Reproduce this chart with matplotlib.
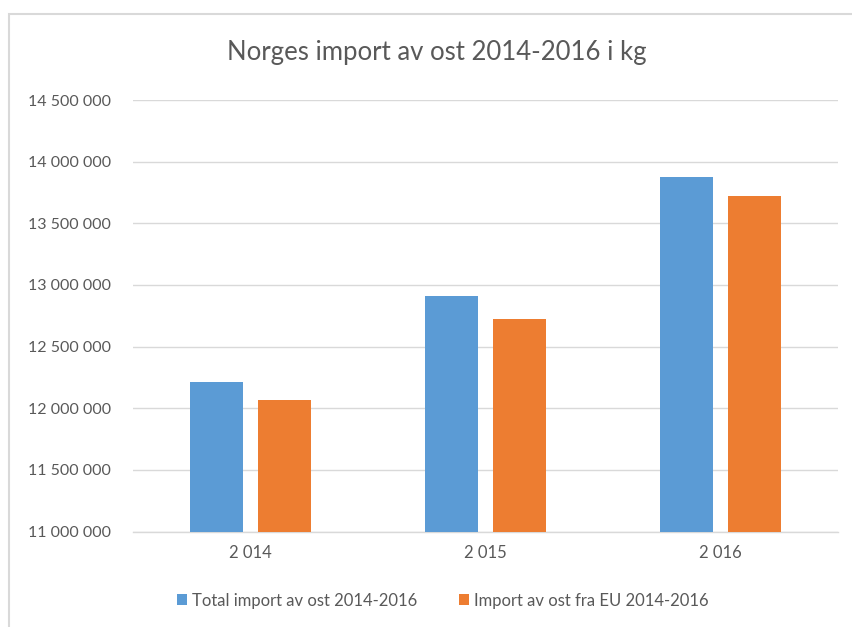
import numpy as np
import matplotlib
matplotlib.use("Agg")
import matplotlib.pyplot as plt
from matplotlib.patches import Rectangle
from matplotlib.ticker import FuncFormatter

# data
years = ["2 014", "2 015", "2 016"]
total_import = [12211000, 12910000, 13873000]
eu_import = [12066000, 12723000, 13721000]
series_names = ["Total import av ost 2014-2016", "Import av ost fra EU 2014-2016"]

blue = "#5B9BD5"
orange = "#ED7D31"
grey_text = "#595959"
grid_col = "#D9D9D9"

plt.rcParams['font.family'] = ['Lato', 'DejaVu Sans']

fig = plt.figure(figsize=(8.52, 6.27), dpi=100)
ax = fig.add_axes([0.1561, 0.1523, 0.8275, 0.6882])

# chart border (cut off at right and bottom in the reference)
fig.patches.append(Rectangle((9 / 852, -0.05), 1.1, 613 / 627 + 0.05,
                             transform=fig.transFigure, fill=False,
                             edgecolor=grid_col, linewidth=1.5))

x = np.arange(len(years))
w = 0.225
off = 0.1435
ax.bar(x - off, total_import, w, color=blue, label=series_names[0], zorder=3)
ax.bar(x + off, eu_import, w, color=orange, label=series_names[1], zorder=3)

ax.set_xlim(-0.5, 2.5)
ax.set_ylim(11000000, 14500000)
ax.set_yticks(np.arange(11000000, 14500001, 500000))
ax.yaxis.set_major_formatter(FuncFormatter(lambda v, p: f"{int(v):,}".replace(",", " ")))
ax.set_xticks(x)
ax.set_xticklabels(years)

ax.grid(axis='y', color=grid_col, linewidth=1.0, zorder=0)
for s in ['top', 'right', 'left']:
    ax.spines[s].set_visible(False)
ax.spines['bottom'].set_color(grid_col)
ax.spines['bottom'].set_linewidth(1.0)
ax.tick_params(axis='both', length=0, colors=grey_text, labelsize=11.5)
ax.tick_params(axis='y', pad=16)
ax.tick_params(axis='x', labelsize=12, pad=10)

fig.text(0.513, 0.917, "Norges import av ost 2014-2016 i kg", ha='center', va='center',
         fontsize=18.5, color=grey_text)

leg = fig.legend(loc='center', bbox_to_anchor=(0.52, 0.042), ncol=2, frameon=False,
                 fontsize=12, handlelength=0.6, handleheight=0.6, handletextpad=0.3,
                 columnspacing=2.5)
for t in leg.get_texts():
    t.set_color(grey_text)

plt.savefig("out.png", dpi=100)
